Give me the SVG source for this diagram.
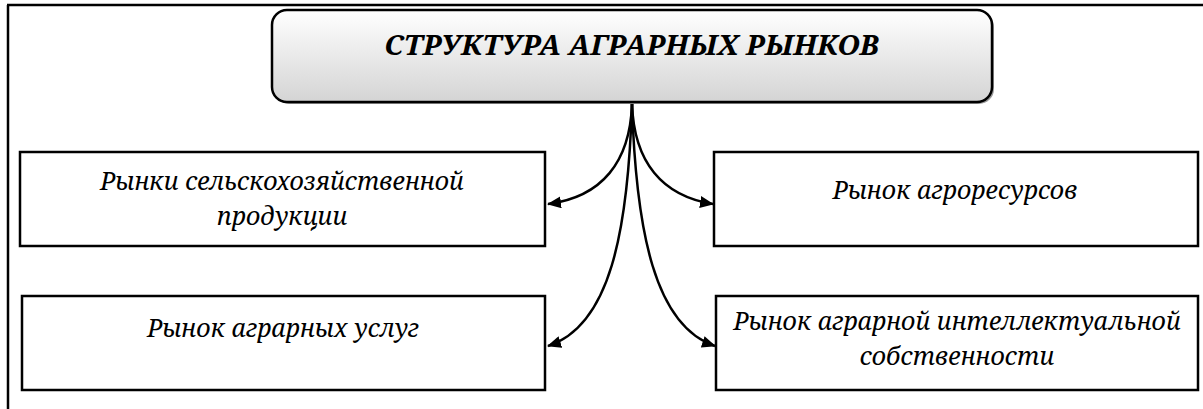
<svg xmlns="http://www.w3.org/2000/svg" width="1203" height="409" viewBox="0 0 1203 409">
<style>
.box{fill:#fff;stroke:#000;stroke-width:2.5}
.t{font-family:"Noto Serif","DejaVu Serif",serif;font-style:italic;font-size:25px;fill:#000;text-anchor:middle}
.title{font-family:"Noto Serif","DejaVu Serif",serif;font-style:italic;font-weight:bold;font-size:27px;fill:#000;text-anchor:middle}
.c{fill:none;stroke:#000;stroke-width:2.5}
</style>
<defs>
<linearGradient id="g" x1="0" y1="0" x2="0" y2="1">
<stop offset="0" stop-color="#ffffff"/>
<stop offset="1" stop-color="#d4d4d4"/>
</linearGradient>
<marker id="a" viewBox="0 0 14 12" refX="13" refY="6" markerWidth="14" markerHeight="12" markerUnits="userSpaceOnUse" orient="auto">
<path d="M0,0 L14,6 L0,12 Z" fill="#000"/>
</marker>
</defs>
<g id="frame">
<line x1="7" y1="5" x2="1203" y2="5" stroke="#000" stroke-width="2.5"/>
<line x1="8" y1="5" x2="8" y2="409" stroke="#000" stroke-width="2.5"/>
</g>
<g id="title">
<rect x="274" y="12" width="720" height="92" rx="15" fill="#999"/>
<rect x="272" y="10" width="720" height="92" rx="15" fill="url(#g)" stroke="#000" stroke-width="2.5"/>
<text class="title" x="632" y="55" textLength="495" lengthAdjust="spacingAndGlyphs">СТРУКТУРА АГРАРНЫХ РЫНКОВ</text>
</g>
<g id="connectors">
<path class="c" d="M632,104 C630,162 602,197 548,204" marker-end="url(#a)"/>
<path class="c" d="M632,104 C628,232 610,326 548,346" marker-end="url(#a)"/>
<path class="c" d="M632,104 C634,162 662,196 713,204" marker-end="url(#a)"/>
<path class="c" d="M632,104 C636,232 655,326 715,346" marker-end="url(#a)"/>
</g>
<g id="n1">
<rect class="box" x="20" y="152" width="525" height="94"/>
<text class="t" x="282" y="190">Рынки сельскохозяйственной</text>
<text class="t" x="282" y="225">продукции</text>
</g>
<g id="n2">
<rect class="box" x="22" y="296" width="523" height="94"/>
<text class="t" x="283" y="337">Рынок аграрных услуг</text>
</g>
<g id="n3">
<rect class="box" x="714" y="152" width="484" height="94"/>
<text class="t" x="955" y="199">Рынок агроресурсов</text>
</g>
<g id="n4">
<rect class="box" x="716" y="296" width="482" height="94"/>
<text class="t" x="957" y="330">Рынок аграрной интеллектуальной</text>
<text class="t" x="957" y="365">собственности</text>
</g>
</svg>
